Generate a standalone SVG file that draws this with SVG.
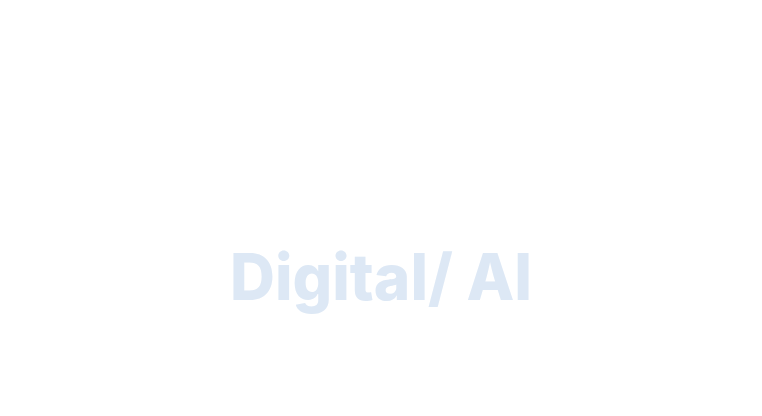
<svg xmlns="http://www.w3.org/2000/svg" width="762" height="416" viewBox="0 0 762 416">
<style>
.t{font-family:Inter,"Open Sans","Liberation Sans",sans-serif;font-weight:800;font-size:64px;fill:#dde8f5}
</style>
<rect width="762" height="416" fill="#ffffff"/>
<g id="title">
<text class="t" x="230" y="300" textLength="302" lengthAdjust="spacingAndGlyphs">Digital/ AI</text>
</g>
</svg>
